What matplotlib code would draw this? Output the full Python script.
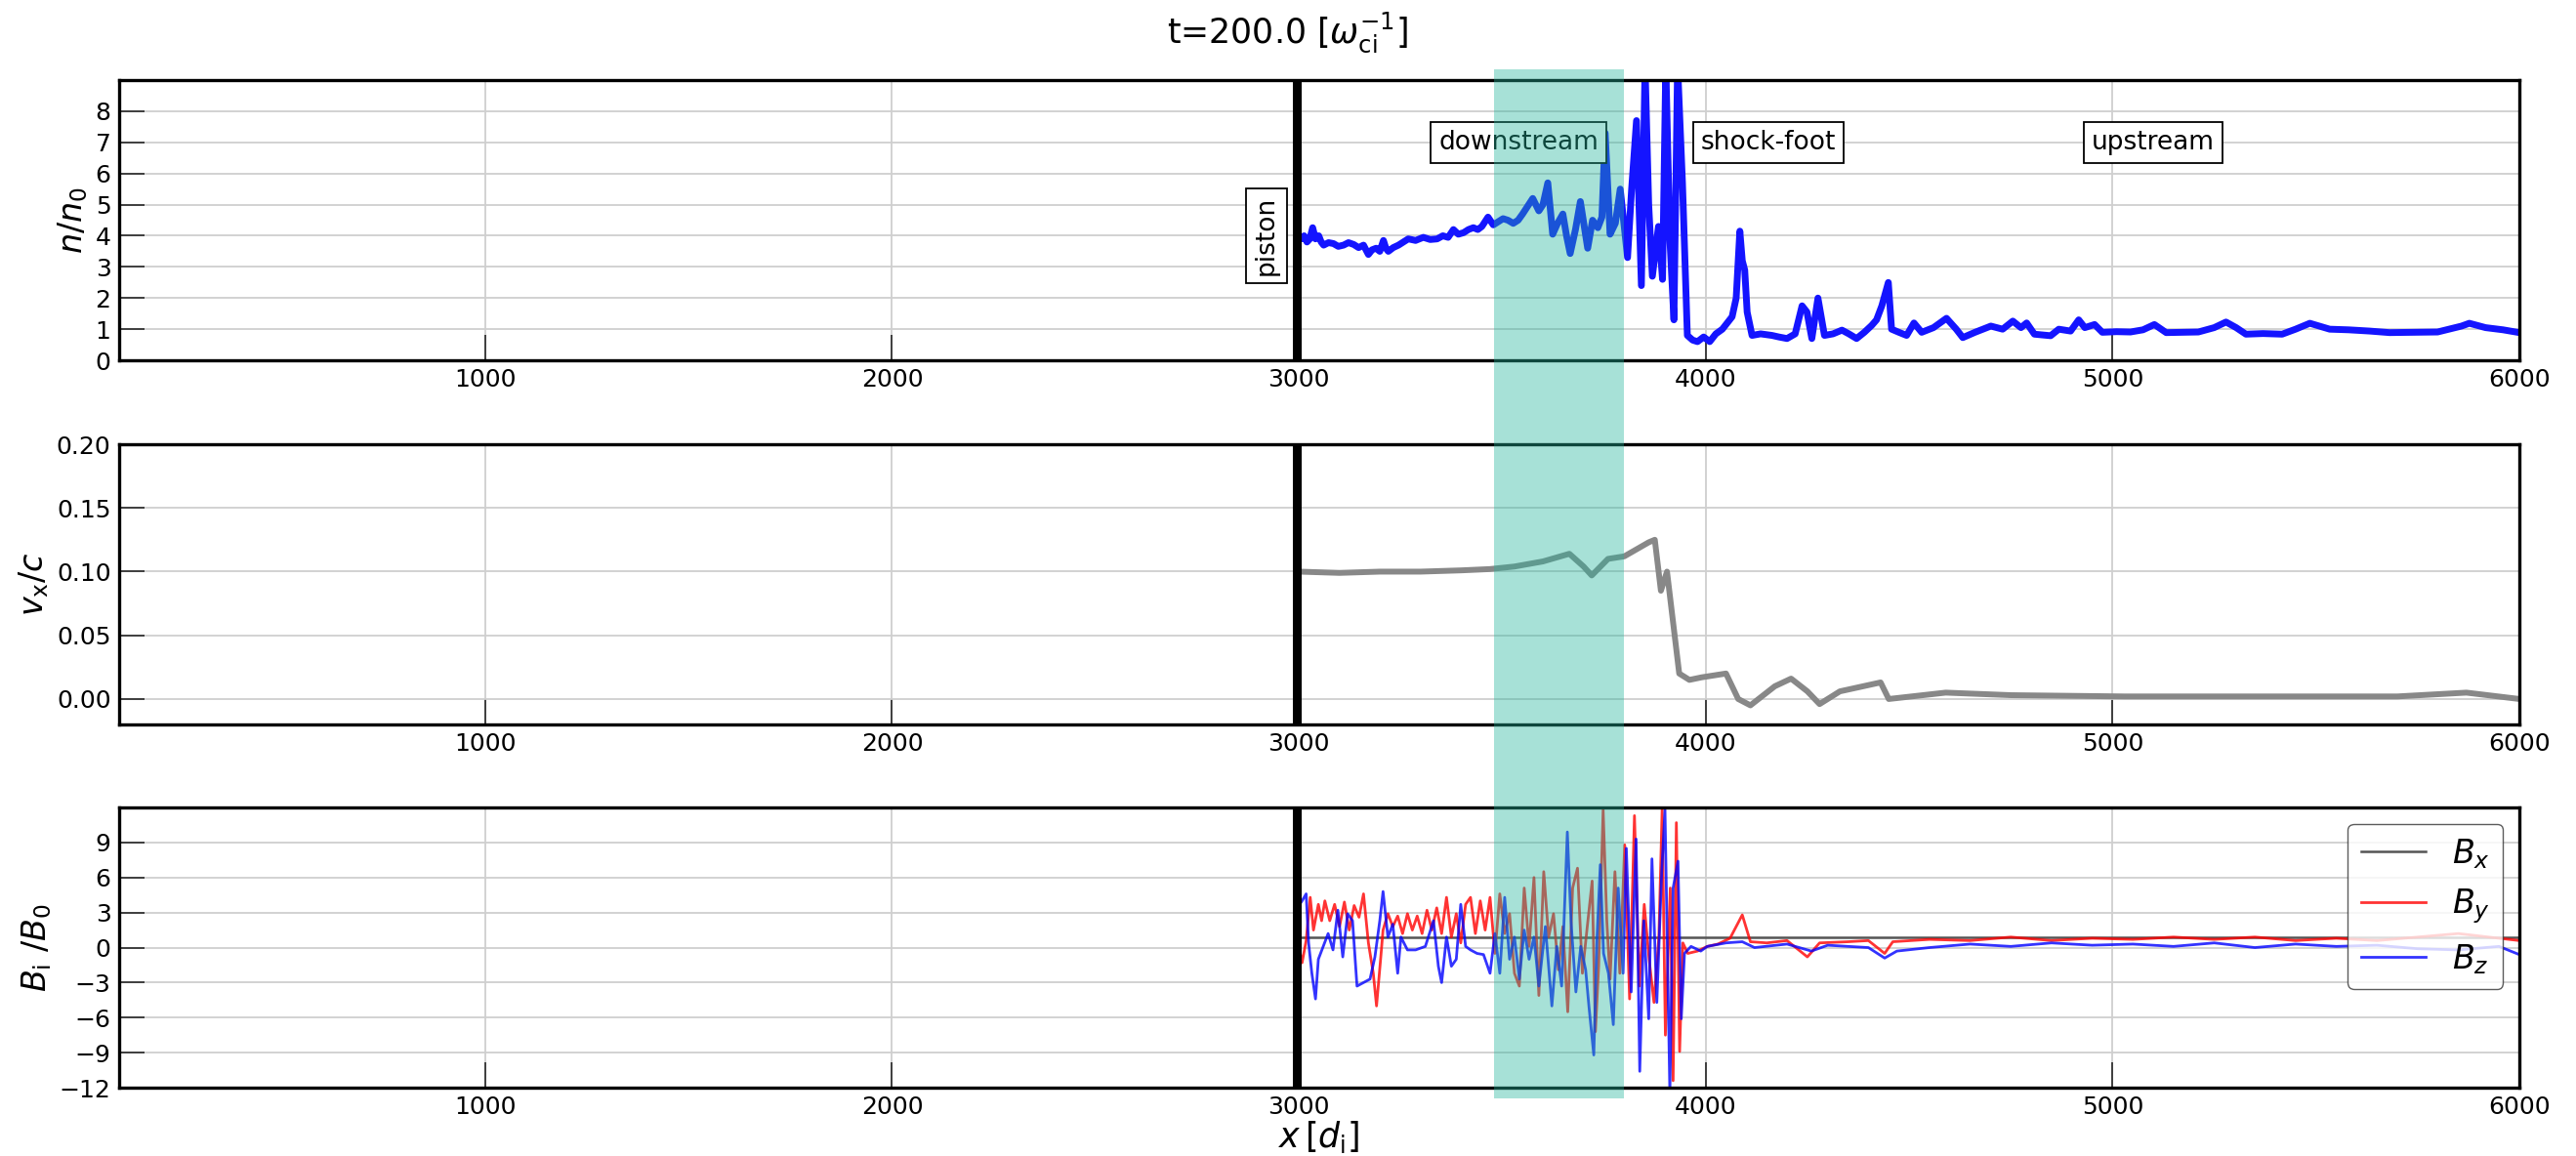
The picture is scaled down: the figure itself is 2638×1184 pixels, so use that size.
import matplotlib
matplotlib.use('Agg')
import matplotlib.pyplot as plt
from matplotlib.patches import Rectangle
from matplotlib.transforms import blended_transform_factory

# density n/n0
n_x = [3000, 3006, 3013, 3020, 3027, 3034, 3041, 3049, 3055, 3061, 3073, 3085, 3097, 3110,
       3122, 3135, 3147, 3159, 3171, 3180, 3190, 3199, 3208, 3214, 3220, 3232, 3245, 3257,
       3269, 3287, 3306, 3323, 3340, 3354, 3367, 3380, 3392, 3405, 3417, 3429, 3440, 3450,
       3465, 3478, 3490, 3502, 3514, 3527, 3539, 3550, 3560, 3575, 3590, 3600, 3612, 3624,
       3636, 3649, 3658, 3667, 3680, 3692, 3710, 3722, 3735, 3745, 3753, 3765, 3778, 3790,
       3808, 3818, 3830, 3842, 3851, 3860, 3869, 3884, 3894, 3902, 3912, 3922, 3931, 3943,
       3955, 3968, 3980, 3995, 4010, 4025, 4041, 4053, 4065, 4075, 4084, 4090, 4096, 4102,
       4114, 4135, 4163, 4180, 4200, 4220, 4237, 4249, 4261, 4276, 4292, 4313, 4335, 4352,
       4371, 4390, 4408, 4420, 4433, 4449, 4457, 4475, 4494, 4512, 4531, 4560, 4592, 4616,
       4632, 4662, 4701, 4730, 4755, 4775, 4789, 4808, 4848, 4868, 4897, 4917, 4932, 4956,
       4975, 5010, 5044, 5075, 5103, 5132, 5170, 5211, 5250, 5279, 5304, 5328, 5370, 5417,
       5450, 5485, 5534, 5580, 5632, 5681, 5740, 5799, 5858, 5877, 5917, 5960, 6000]
n_val = [3.9, 3.9, 4.0, 3.8, 3.9, 4.26, 3.9, 4.0, 3.8, 3.7, 3.78, 3.75, 3.66, 3.7,
         3.78, 3.72, 3.62, 3.7, 3.4, 3.55, 3.6, 3.5, 3.85, 3.6, 3.5, 3.62, 3.7, 3.8,
         3.9, 3.85, 3.95, 3.88, 3.9, 4.0, 3.95, 4.2, 4.05, 4.1, 4.2, 4.26, 4.2, 4.3,
         4.6, 4.35, 4.45, 4.55, 4.5, 4.4, 4.5, 4.7, 4.9, 5.2, 4.8, 5.0, 5.7, 4.05,
         4.4, 4.7, 4.0, 3.43, 4.2, 5.1, 3.6, 4.5, 4.26, 4.6, 7.3, 4.05, 4.4, 5.5,
         3.3, 5.5, 7.7, 2.4, 9.5, 5.0, 2.7, 4.3, 2.6, 9.5, 3.9, 1.3, 9.5, 5.7,
         0.8, 0.65, 0.6, 0.75, 0.6, 0.85, 1.0, 1.2, 1.4, 2.0, 4.15, 3.2, 2.9, 1.55,
         0.8, 0.85, 0.8, 0.75, 0.7, 0.85, 1.75, 1.55, 0.7, 2.0, 0.8, 0.85, 0.97, 0.85,
         0.7, 0.9, 1.12, 1.3, 1.75, 2.5, 1.0, 0.9, 0.8, 1.2, 0.9, 1.05, 1.35, 1.0,
         0.73, 0.9, 1.1, 1.0, 1.26, 1.05, 1.2, 0.84, 0.79, 1.0, 0.94, 1.3, 1.05, 1.15,
         0.9, 0.92, 0.91, 0.98, 1.15, 0.89, 0.9, 0.91, 1.05, 1.23, 1.05, 0.84, 0.86, 0.84,
         1.0, 1.19, 1.0, 0.98, 0.94, 0.89, 0.9, 0.91, 1.1, 1.19, 1.05, 0.98, 0.89]

# velocity vx/c
vx_x = [3000, 3100, 3200, 3300, 3400, 3470, 3530, 3600, 3665, 3700, 3720, 3760, 3800,
        3860, 3875, 3890, 3905, 3920, 3935, 3960, 3990, 4050, 4080, 4110, 4170, 4210,
        4250, 4280, 4330, 4430, 4450, 4590, 4750, 5030, 5430, 5700, 5870, 6000]
vx_val = [0.100, 0.099, 0.100, 0.100, 0.101, 0.102, 0.104, 0.108, 0.114, 0.104, 0.097,
          0.110, 0.112, 0.123, 0.125, 0.085, 0.100, 0.060, 0.020, 0.015, 0.017, 0.020,
          0.000, -0.005, 0.010, 0.016, 0.006, -0.004, 0.006, 0.013, 0.000, 0.005,
          0.003, 0.002, 0.002, 0.002, 0.005, 0.000]

# magnetic field components
bx_x = [3000, 6000]
bx_val = [0.9, 0.9]

by_x = [3000, 3008, 3018, 3028, 3036, 3048, 3056, 3064, 3076, 3088, 3100, 3112, 3124,
        3136, 3148, 3159, 3171, 3183, 3191, 3201, 3207, 3219, 3231, 3243, 3255, 3267,
        3279, 3291, 3303, 3315, 3327, 3339, 3351, 3363, 3375, 3387, 3398, 3410, 3422,
        3434, 3446, 3458, 3470, 3482, 3494, 3506, 3518, 3530, 3542, 3554, 3566, 3578,
        3590, 3602, 3614, 3626, 3638, 3649, 3661, 3673, 3685, 3697, 3709, 3721, 3729,
        3737, 3748, 3757, 3765, 3777, 3789, 3801, 3813, 3825, 3837, 3849, 3861, 3873,
        3885, 3893, 3901, 3913, 3920, 3928, 3936, 3944, 3956, 3980, 4004, 4030, 4060,
        4090, 4110, 4150, 4200, 4250, 4280, 4350, 4400, 4440, 4460, 4550, 4650, 4750,
        4850, 4950, 5050, 5150, 5250, 5350, 5450, 5550, 5650, 5750, 5850, 5950, 6000]
by_val = [0.1, -1.3, 0.6, 4.3, 1.5, 3.7, 2.3, 4.0, 2.3, 3.7, 1.8, 3.9, 1.5,
          3.6, 2.6, 4.6, 0.4, -2.2, -5.0, -1.0, 1.5, 2.9, 1.8, 2.7, 1.2, 2.9,
          1.5, 2.7, 1.2, 3.2, 1.5, 3.4, 1.2, 4.3, 0.9, 2.9, 0.4, 3.7, 4.3,
          1.2, 4.0, 1.5, 4.3, -0.5, 4.6, 1.2, 2.9, -2.2, -3.3, 5.1, 0.1, 6.0,
          -4.1, 6.5, 0.9, 2.9, -1.9, 1.8, -5.5, 5.1, 6.8, -2.2, 1.8, 5.7, -7.2,
          -1.6, 11.8, 2.3, -2.7, 6.5, -2.2, 8.8, -4.4, 11.3, -3.3, 3.7, -1.0, -4.7,
          0.9, 11.8, -7.5, 5.1, -11.4, 10.7, -8.9, 0.4, -0.5, -0.3, 0.1, 0.3, 0.8,
          2.8, 0.5, 0.4, 0.6, -0.8, 0.4, 0.5, 0.6, -0.5, 0.5, 0.7, 0.6, 0.9,
          0.6, 0.8, 0.7, 0.9, 0.7, 0.9, 0.6, 0.8, 0.6, 0.9, 1.2, 0.8, 0.6]

bz_x = [3000, 3008, 3018, 3024, 3032, 3041, 3048, 3060, 3072, 3084, 3096, 3108, 3120,
        3132, 3143, 3159, 3175, 3187, 3199, 3207, 3219, 3231, 3243, 3251, 3267, 3287,
        3311, 3331, 3343, 3351, 3363, 3375, 3387, 3398, 3410, 3422, 3438, 3454, 3470,
        3482, 3494, 3506, 3518, 3530, 3542, 3554, 3566, 3578, 3590, 3606, 3622, 3634,
        3646, 3660, 3669, 3681, 3693, 3705, 3713, 3725, 3733, 3741, 3749, 3761, 3773,
        3785, 3797, 3805, 3817, 3829, 3838, 3848, 3860, 3868, 3880, 3892, 3900, 3912,
        3920, 3932, 3940, 3948, 3964, 3988, 4004, 4050, 4090, 4120, 4200, 4260, 4300,
        4400, 4440, 4470, 4550, 4650, 4750, 4850, 4950, 5050, 5150, 5250, 5350, 5450,
        5550, 5650, 5750, 5850, 5950, 6000]
bz_val = [3.6, 4.0, 4.6, 0.4, -2.2, -4.4, -1.0, 0.1, 1.2, -0.2, 3.2, -0.8, 2.9,
          2.3, -3.3, -3.0, -2.7, -0.8, 2.3, 4.8, 0.9, 2.0, -2.2, 0.9, -0.2, -0.2,
          0.1, 2.3, -1.6, -3.0, 0.9, -1.6, -1.0, 3.7, 0.1, -0.2, -0.5, -0.6, -2.2,
          1.2, -2.2, 4.3, -1.0, 0.9, -2.7, 1.5, -1.0, 0.9, -3.3, 1.8, -5.0, 0.1,
          -3.3, 9.9, 2.3, -3.8, 0.1, -1.9, -5.0, -9.2, 0.9, 7.1, -0.5, -2.2, -6.6,
          5.1, -2.2, 8.5, -3.8, 9.3, -10.6, 2.3, -6.1, 7.6, -4.7, 6.5, 11.8, -12.5,
          5.1, 7.4, -6.1, -0.5, 0.1, -0.3, 0.1, 0.4, 0.5, 0.0, 0.3, -0.3, 0.2,
          0.0, -0.9, -0.3, 0.0, 0.3, 0.1, 0.4, 0.2, 0.3, 0.1, 0.4, 0.0, 0.3,
          0.1, 0.2, -0.1, -0.2, 0.1, -0.6]

x_ticks = [1000, 2000, 3000, 4000, 5000, 6000]
piston_x = 2995
shade_x = [3480, 3800]

fig = plt.figure(figsize=(26.38, 11.84), dpi=100)
left, width, height = 0.0462, 0.9318, 0.2424
ax1 = fig.add_axes([left, 0.6883, width, height])
ax2 = fig.add_axes([left, 0.3733, width, height])
ax3 = fig.add_axes([left, 0.0591, width, height])

for ax in (ax1, ax2, ax3):
    ax.set_xlim(100, 6000)
    ax.set_xticks(x_ticks)
    ax.grid(True, color='#cfcfcf', lw=1.3)
    ax.set_axisbelow(True)
    ax.tick_params(direction='in', length=19, width=1.3, color='#333333',
                   labelsize=18, pad=6)
    for s in ax.spines.values():
        s.set_linewidth(2.4)
        s.set_color('black')
    ax.axvline(piston_x, color='black', lw=6.5, zorder=5)

# top: density
ax1.plot(n_x, n_val, color='#1414ff', lw=5)
ax1.set_ylim(0, 9)
ax1.set_yticks(range(0, 9))
ax1.set_ylabel(r'$n/n_0$', fontsize=24, labelpad=4)
box = dict(boxstyle='square,pad=0.3', facecolor='white', edgecolor='black', lw=1.3)
ax1.text(2920, 4.0, 'piston', rotation=90, ha='center', va='center', fontsize=19, bbox=box, zorder=6)
ax1.text(3540, 7.0, 'downstream', ha='center', va='center', fontsize=19, bbox=box, zorder=6)
ax1.text(4155, 7.0, 'shock-foot', ha='center', va='center', fontsize=19, bbox=box, zorder=6)
ax1.text(5100, 7.0, 'upstream', ha='center', va='center', fontsize=19, bbox=box, zorder=6)

# middle: velocity
ax2.plot(vx_x, vx_val, color='#888888', lw=4.3)
ax2.set_ylim(-0.02, 0.2)
ax2.set_yticks([0.0, 0.05, 0.10, 0.15, 0.20])
ax2.set_yticklabels(['0.00', '0.05', '0.10', '0.15', '0.20'])
ax2.set_ylabel(r'$v_{\rm x}/c$', fontsize=24, labelpad=4)

# bottom: magnetic field
ax3.plot(bx_x, bx_val, color='#555555', lw=1.8, label=r'$B_x$')
ax3.plot(by_x, by_val, color='red', lw=2, alpha=0.8, label=r'$B_y$')
ax3.plot(bz_x, bz_val, color='blue', lw=2, alpha=0.8, label=r'$B_z$')
ax3.set_ylim(-12, 12)
ax3.set_yticks(range(-12, 12, 3))
ax3.set_ylabel(r'$B_{\rm i}\ /B_0$', fontsize=24, labelpad=4)
ax3.set_xlabel(r'$x\,[d_{\rm i}]$', fontsize=25, labelpad=0)
ax3.legend(loc='upper right', fontsize=24, framealpha=0.8, edgecolor='#333333',
           handlelength=2.0, labelspacing=0.5)

# shaded region across all panels
tr = blended_transform_factory(ax1.transData, fig.transFigure)
fig.add_artist(Rectangle((shade_x[0], 0.0498), shade_x[1] - shade_x[0], 0.940 - 0.0498,
                         transform=tr, facecolor='#25b49b', alpha=0.4, lw=0, zorder=10))

fig.suptitle(r't=200.0 [$\omega_{\rm ci}^{-1}$]', fontsize=25, x=0.5, y=0.972, va='center')

fig.savefig('out.png', dpi=100)
